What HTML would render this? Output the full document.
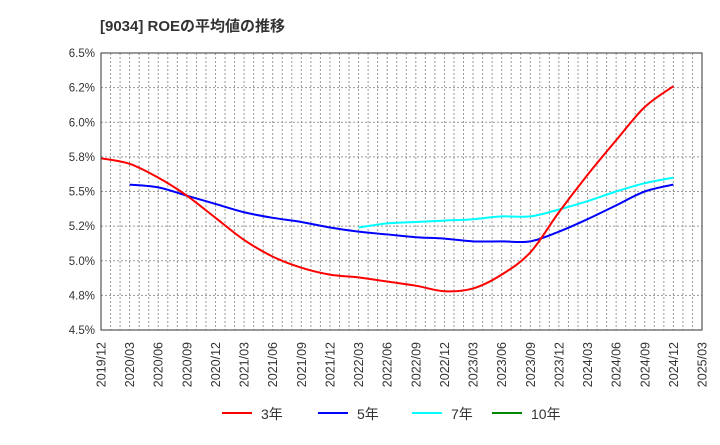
<!DOCTYPE html>
<html><head><meta charset="utf-8"><style>
body{margin:0;background:#fff;width:720px;height:440px;overflow:hidden}
text{font-family:"Liberation Sans","Noto Sans CJK JP",sans-serif}
</style></head><body>
<svg id="c" width="720" height="440" xmlns="http://www.w3.org/2000/svg">
<text x="100" y="31" font-size="15" font-weight="bold" fill="#333">[9034]  ROEの平均値の推移</text>
<g id="grid"></g><g id="series"></g><g id="axes"></g>
<g>
<g><line x1="222" y1="413" x2="252" y2="413" stroke="#f00" stroke-width="2"/><text x="261" y="419" font-size="14" fill="#333">3年</text></g>
<g><line x1="318" y1="413" x2="348" y2="413" stroke="#00f" stroke-width="2"/><text x="357" y="419" font-size="14" fill="#333">5年</text></g>
<g><line x1="412" y1="413" x2="442" y2="413" stroke="#0ff" stroke-width="2"/><text x="451" y="419" font-size="14" fill="#333">7年</text></g>
<g><line x1="492" y1="413" x2="522" y2="413" stroke="#080" stroke-width="2"/><text x="531" y="419" font-size="14" fill="#333">10年</text></g>
</g>
</svg>
<script>
const xLabels=["2019/12","2020/03","2020/06","2020/09","2020/12","2021/03","2021/06","2021/09","2021/12","2022/03","2022/06","2022/09","2022/12","2023/03","2023/06","2023/09","2023/12","2024/03","2024/06","2024/09","2024/12","2025/03"];
const yTicks=[4.5,4.75,5.0,5.25,5.5,5.75,6.0,6.25,6.5];
const yTickLabels=["4.5%","4.8%","5.0%","5.2%","5.5%","5.8%","6.0%","6.2%","6.5%"];
const roe3=[5.74,5.70,5.60,5.47,5.31,5.15,5.03,4.95,4.90,4.88,4.85,4.82,4.78,4.80,4.90,5.06,5.35,5.62,5.87,6.11,6.26];
const roe3Start=0;
const roe5=[5.55,5.53,5.47,5.41,5.35,5.31,5.28,5.24,5.21,5.19,5.17,5.16,5.14,5.14,5.14,5.21,5.30,5.40,5.50,5.55];
const roe5Start=1;
const roe7=[5.24,5.27,5.28,5.29,5.30,5.32,5.32,5.37,5.43,5.50,5.56,5.60];
const roe7Start=9;
const L=101,R=702,T=53,B=330,NS="http://www.w3.org/2000/svg";
const months=(xLabels.length-1)*3;
const xq=i=>L+(i*3)*(R-L)/months;
const xm=m=>L+m*(R-L)/months;
const y=v=>B-(v-4.5)/2*(B-T);
function mk(t,a,p){const e=document.createElementNS(NS,t);for(const k in a)e.setAttribute(k,a[k]);p.appendChild(e);return e;}
const g=document.getElementById('grid'),ax=document.getElementById('axes'),sg=document.getElementById('series');
for(let m=1;m<months;m++){const l=mk('line',{x1:xm(m),y1:T,x2:xm(m),y2:B,stroke:'#999','stroke-dasharray':'2,2'},g);

}
yTicks.forEach((v,i)=>{if(i>0&&i<yTicks.length-1){const l=mk('line',{x1:L,y1:y(v),x2:R,y2:y(v),stroke:'#999','stroke-dasharray':'2,2'},g);

}
const t=mk('text',{x:L-6,y:y(v)+4,'text-anchor':'end','font-size':11.5,fill:'#333'},ax);t.textContent=yTickLabels[i];

});
const fr=mk('rect',{x:L,y:T,width:R-L,height:B-T,fill:'none',stroke:'#333'},ax);


xLabels.forEach((s,i)=>{const x=xq(i);const t=mk('text',{x:0,y:0,'text-anchor':'end','font-size':12.5,fill:'#333',transform:`translate(${x+4.5},${B+12}) rotate(-90)`},ax);t.textContent=s;

});
function path(vals,start){const p=vals.map((v,i)=>[xq(start+i),y(v)]);let d=`M${p[0][0]},${p[0][1]}`;
for(let i=0;i<p.length-1;i++){const p0=p[i-1]||p[i],p1=p[i],p2=p[i+1],p3=p[i+2]||p2;
d+=` C${p1[0]+(p2[0]-p0[0])/6},${p1[1]+(p2[1]-p0[1])/6} ${p2[0]-(p3[0]-p1[0])/6},${p2[1]-(p3[1]-p1[1])/6} ${p2[0]},${p2[1]}`;}return d;}
[[roe7,roe7Start,'#0ff','line-7y'],[roe5,roe5Start,'#00f','line-5y'],[roe3,roe3Start,'#f00','line-3y']].forEach(([v,s,c,n])=>{
const e=mk('path',{d:path(v,s),fill:'none',stroke:c,'stroke-width':2},sg);

});
</script>
</body></html>
